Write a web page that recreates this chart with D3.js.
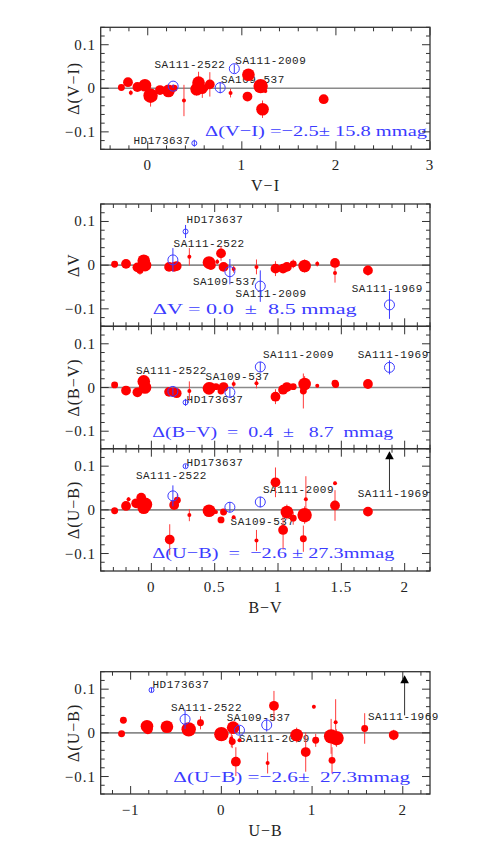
<!DOCTYPE html>
<html>
<head>
<meta charset="utf-8">
<script src="https://cdn.jsdelivr.net/npm/d3@7"></script>
<style>
  body { margin: 0; background: #fff; }
  text { white-space: pre; }
</style>
</head>
<body>
<svg id="chart"></svg>
<script>
// red points: [colour index, delta, error, number of observations]
const viRed = [
  [-0.28, 0.002, 0.004, 3], [-0.21, 0.014, 0.006, 6], [-0.18, -0.010, 0.006, 1],
  [-0.11, 0.003, 0.006, 6], [-0.03, 0.007, 0.008, 10], [0.03, -0.017, 0.025, 13],
  [0.13, -0.004, 0.006, 6], [0.22, -0.006, 0.006, 10], [0.28, 0.000, 0.005, 3],
  [0.385, -0.028, 0.036, 1], [0.54, 0.013, 0.025, 10], [0.52, -0.002, 0.015, 10],
  [0.58, -0.002, 0.020, 6], [0.61, 0.001, 0.010, 3], [0.66, 0.009, 0.028, 6],
  [0.88, -0.011, 0.010, 1], [1.07, 0.031, 0.008, 10], [1.06, -0.019, 0.008, 6],
  [1.20, 0.005, 0.012, 13], [1.25, -0.006, 0.005, 1], [1.22, -0.048, 0.020, 10],
  [1.87, -0.025, 0.004, 6]
];
const vRed = [
  [-0.29, 0.002, 0.003, 3], [-0.20, 0.003, 0.005, 6], [-0.11, -0.005, 0.006, 6],
  [-0.09, -0.012, 0.010, 3], [-0.06, 0.010, 0.012, 10], [-0.05, 0.000, 0.008, 10],
  [0.14, -0.004, 0.005, 6], [0.18, -0.004, 0.006, 6], [0.20, -0.002, 0.005, 6],
  [0.30, 0.019, 0.020, 1], [0.455, 0.006, 0.008, 10], [0.47, 0.000, 0.006, 6],
  [0.52, 0.008, 0.006, 1], [0.55, 0.027, 0.017, 6], [0.57, -0.004, 0.006, 6],
  [0.65, -0.009, 0.008, 1], [0.83, -0.004, 0.017, 1], [0.98, -0.008, 0.017, 6],
  [1.04, -0.008, 0.010, 6], [1.07, -0.004, 0.010, 6], [1.12, 0.003, 0.010, 3],
  [1.21, -0.002, 0.015, 10], [1.31, 0.003, 0.006, 1], [1.45, 0.005, 0.005, 6],
  [1.45, -0.018, 0.022, 1], [1.71, -0.012, 0.012, 6]
];
const bvRed = [
  [-0.29, 0.006, 0.003, 3], [-0.20, -0.007, 0.004, 6], [-0.11, -0.011, 0.005, 6],
  [-0.06, 0.014, 0.008, 10], [-0.05, 0.000, 0.006, 10], [0.14, -0.010, 0.005, 6],
  [0.18, -0.011, 0.005, 6], [0.20, -0.013, 0.004, 6], [0.30, -0.008, 0.022, 1],
  [0.455, -0.002, 0.006, 10], [0.47, 0.000, 0.006, 6], [0.51, 0.002, 0.005, 3],
  [0.55, -0.008, 0.006, 3], [0.57, 0.001, 0.005, 6], [0.65, 0.008, 0.008, 1],
  [0.83, 0.010, 0.012, 1], [0.98, -0.021, 0.017, 6], [1.04, -0.005, 0.006, 6],
  [1.07, 0.001, 0.005, 6], [1.12, 0.002, 0.006, 3], [1.21, 0.008, 0.018, 10],
  [1.20, -0.008, 0.040, 3], [1.31, 0.004, 0.004, 1], [1.45, 0.010, 0.005, 3],
  [1.455, 0.007, 0.005, 3], [1.71, 0.008, 0.010, 6]
];
const ubRed = [
  [-0.29, -0.002, 0.003, 3], [-0.20, 0.009, 0.005, 6], [-0.18, 0.024, 0.005, 1],
  [-0.12, 0.015, 0.006, 6], [-0.08, 0.028, 0.008, 6], [-0.05, 0.012, 0.010, 13],
  [-0.06, 0.005, 0.008, 10], [0.145, -0.068, 0.035, 6], [0.18, 0.011, 0.010, 6],
  [0.205, 0.022, 0.015, 3], [0.30, -0.012, 0.014, 1], [0.455, -0.002, 0.005, 10],
  [0.47, -0.003, 0.005, 6], [0.51, -0.005, 0.004, 1], [0.55, -0.023, 0.006, 3],
  [0.57, -0.005, 0.006, 3], [0.65, -0.017, 0.004, 1], [0.83, -0.070, 0.024, 1],
  [0.98, 0.063, 0.034, 6], [1.04, -0.046, 0.045, 6], [1.07, -0.005, 0.017, 10],
  [1.12, -0.019, 0.015, 3], [1.21, -0.012, 0.020, 13], [1.20, -0.066, 0.030, 3],
  [1.22, 0.024, 0.053, 1], [1.45, 0.061, 0.004, 1], [1.45, 0.010, 0.035, 6],
  [1.71, -0.004, 0.010, 6]
];
const ubuRed = [
  [-1.10, -0.002, 0.004, 3], [-1.08, 0.029, 0.005, 3], [-0.82, 0.015, 0.008, 10],
  [-0.81, 0.008, 0.006, 6], [-0.60, 0.014, 0.006, 10], [-0.36, 0.008, 0.008, 13],
  [-0.23, 0.023, 0.015, 3], [0.00, -0.003, 0.006, 13], [0.11, -0.013, 0.020, 1],
  [0.12, -0.020, 0.015, 3], [0.13, 0.012, 0.010, 10], [0.16, -0.066, 0.033, 6],
  [0.20, -0.017, 0.004, 1], [0.51, -0.069, 0.024, 1], [0.58, 0.062, 0.034, 6],
  [0.83, -0.005, 0.017, 10], [0.93, -0.044, 0.045, 6], [1.02, 0.060, 0.004, 1],
  [1.04, -0.017, 0.015, 3], [1.21, -0.008, 0.040, 13], [1.22, -0.063, 0.030, 3],
  [1.26, 0.024, 0.053, 1], [1.27, -0.012, 0.020, 13], [1.58, 0.010, 0.035, 3],
  [1.90, -0.005, 0.012, 6]
];

// standard stars: [name, colour index, delta, error, number of observations]
const viStd = [
  ["HD173637", 0.495, -0.126, 0.008, 1], ["SA111-2522", 0.27, 0.005, 0.004, 4],
  ["SA109-537", 0.77, 0.0015, 0.013, 4], ["SA111-2009", 0.92, 0.045, 0.010, 4]
];
const vStd = [
  ["HD173637", 0.27, 0.077, 0.015, 1], ["SA111-2522", 0.17, 0.012, 0.027, 4],
  ["SA109-537", 0.62, -0.015, 0.029, 4], ["SA111-2009", 0.86, -0.048, 0.036, 4],
  ["SA111-1969", 1.88, -0.091, 0.032, 4]
];
const bvStd = [
  ["HD173637", 0.27, -0.034, 0.008, 1], ["SA111-2522", 0.17, -0.009, 0.008, 4],
  ["SA109-537", 0.62, -0.011, 0.012, 4], ["SA111-2009", 0.86, 0.047, 0.012, 4],
  ["SA111-1969", 1.88, 0.046, 0.016, 4]
];
const ubStd = [
  ["HD173637", 0.27, 0.100, 0.004, 1], ["SA111-2522", 0.17, 0.032, 0.024, 4],
  ["SA109-537", 0.62, 0.006, 0.012, 4], ["SA111-2009", 0.86, 0.018, 0.012, 4]
];
const ubuStd = [
  ["HD173637", -0.77, 0.098, 0.005, 1], ["SA111-2522", -0.40, 0.031, 0.022, 4],
  ["SA109-537", 0.50, 0.018, 0.015, 4], ["SA111-2009", 0.20, 0.006, 0.010, 4]
];
// off-scale points: [name, colour index, lower value, arrow tip]
const ubLimit = [["SA111-1969", 1.88, 0.044, 0.134]];
const ubuLimit = [["SA111-1969", 2.02, 0.040, 0.132]];

const statText = [
  "Δ(V−I) =−2.5± 15.8 mmag",
  "ΔV = 0.0  ±  8.5 mmag",
  "Δ(B−V)  =  0.4  ±   8.7  mmag",
  "Δ(U−B)  =  −2.6 ± 27.3mmag",
  "Δ(U−B) =−2.6±  27.3mmag"
];

const width = 491, height = 865;
const svg = d3.select("#chart").attr("width", width).attr("height", height);
const blue = "#3b3bff";
const rRed = d3.scaleSqrt().domain([0, 13]).range([0, 7.2]);
const rStd = d3.scaleSqrt().domain([0, 4]).range([0, 5]);

function tickVals(dom, step) {
  const a = Math.ceil(dom[0] / step - 1e-9), b = Math.floor(dom[1] / step + 1e-9);
  return d3.range(a, b + 1).map(i => +(i * step).toFixed(6));
}
const isMajor = (v, m) => Math.abs(v / m - Math.round(v / m)) < 1e-6;

function panel(o) {
  const x = d3.scaleLinear().domain(o.xDom).range([100.7, 430]);
  const y = d3.scaleLinear().domain([-0.14, 0.14]).range([o.bottom, o.top]);
  const g = svg.append("g");

  // zero line
  g.append("line").attr("x1", x.range()[0]).attr("x2", x.range()[1])
    .attr("y1", y(0)).attr("y2", y(0)).attr("stroke", "#8a8a8a").attr("stroke-width", 1.6);

  // star labels (under the points, as in the original)
  const offs = o.labelOff;
  const labelled = o.std.map(d => ({name: d[0], px: x(d[1]), py: y(d[2])}))
    .concat(o.limit.map(d => ({name: d[0], px: x(d[1]), py: y(d[2])})));
  g.selectAll("text.star").data(labelled.filter(d => offs[d.name])).enter().append("text")
    .attr("class", "star")
    .attr("x", d => d.px + offs[d.name][0]).attr("y", d => d.py + offs[d.name][1])
    .attr("text-anchor", d => offs[d.name][2] || "start")
    .attr("font-family", "Liberation Mono, monospace").attr("font-size", 11)
    .attr("letter-spacing", 0.5).attr("fill", "#222").text(d => d.name);

  // red error bars and points
  g.selectAll("line.rerr").data(o.red).enter().append("line")
    .attr("x1", d => x(d[0])).attr("x2", d => x(d[0]))
    .attr("y1", d => y(d[1] - d[2])).attr("y2", d => y(d[1] + d[2]))
    .attr("stroke", "#ff3b3b").attr("stroke-width", 1);
  g.selectAll("circle.red").data(o.red).enter().append("circle")
    .attr("cx", d => x(d[0])).attr("cy", d => y(d[1])).attr("r", d => rRed(d[3]))
    .attr("fill", "#ff0000");

  // standard stars
  g.selectAll("line.berr").data(o.std).enter().append("line")
    .attr("x1", d => x(d[1])).attr("x2", d => x(d[1]))
    .attr("y1", d => y(d[2] - d[3])).attr("y2", d => y(d[2] + d[3]))
    .attr("stroke", blue).attr("stroke-width", 1);
  g.selectAll("circle.std").data(o.std).enter().append("circle")
    .attr("cx", d => x(d[1])).attr("cy", d => y(d[2])).attr("r", d => rStd(d[4]))
    .attr("fill", "none").attr("stroke", blue).attr("stroke-width", 1);

  // off-scale arrows
  o.limit.forEach(d => {
    const ax = x(d[1]), tip = y(d[3]);
    g.append("line").attr("x1", ax).attr("x2", ax).attr("y1", y(d[2])).attr("y2", tip + 7)
      .attr("stroke", "#333").attr("stroke-width", 1);
    g.append("path").attr("d", `M${ax},${tip}L${ax - 4.3},${tip + 8}L${ax + 4.3},${tip + 8}Z`)
      .attr("fill", "#000");
  });

  // statistics text
  g.append("text").attr("x", o.stat[0]).attr("y", o.stat[1])
    .attr("textLength", o.stat[2]).attr("lengthAdjust", "spacingAndGlyphs")
    .attr("font-family", "Liberation Serif, serif").attr("font-size", 15.5)
    .attr("fill", blue).text(o.statText);

  // frame and inward ticks
  g.append("rect").attr("x", 100.7).attr("y", o.top).attr("width", 430 - 100.7)
    .attr("height", o.bottom - o.top).attr("fill", "none")
    .attr("stroke", "#333").attr("stroke-width", 1.3);
  const xt = tickVals(o.xDom, o.xMinor), yt = tickVals(y.domain(), 0.02);
  const tk = g.append("g").attr("stroke", "#333").attr("stroke-width", 1);
  xt.forEach(v => {
    const L = isMajor(v, o.xMajor) ? 8 : 4;
    tk.append("line").attr("x1", x(v)).attr("x2", x(v)).attr("y1", o.bottom).attr("y2", o.bottom - L);
    tk.append("line").attr("x1", x(v)).attr("x2", x(v)).attr("y1", o.top).attr("y2", o.top + L);
  });
  yt.forEach(v => {
    const L = isMajor(v, 0.1) ? 8 : 4;
    tk.append("line").attr("x1", 100.7).attr("x2", 100.7 + L).attr("y1", y(v)).attr("y2", y(v));
    tk.append("line").attr("x1", 430).attr("x2", 430 - L).attr("y1", y(v)).attr("y2", y(v));
  });

  const font = "Liberation Serif, serif";
  g.selectAll("text.yt").data(yt.filter(v => isMajor(v, 0.1))).enter().append("text")
    .attr("x", 96).attr("y", v => y(v) + 5).attr("text-anchor", "end")
    .attr("font-family", font).attr("font-size", 15).attr("letter-spacing", 1)
    .attr("fill", "#222").text(v => d3.format("~g")(v));
  g.append("text").attr("transform", `translate(79,${(o.top + o.bottom) / 2}) rotate(-90)`)
    .attr("text-anchor", "middle").attr("font-family", font).attr("font-size", 16)
    .attr("letter-spacing", 1).attr("fill", "#222").text(o.yLabel);

  if (o.xLabel) {
    g.selectAll("text.xt").data(xt.filter(v => isMajor(v, o.xMajor))).enter().append("text")
      .attr("x", v => x(v)).attr("y", o.bottom + 21).attr("text-anchor", "middle")
      .attr("font-family", font).attr("font-size", 15).attr("letter-spacing", 1)
      .attr("fill", "#222").text(v => d3.format("~g")(v));
    g.append("text").attr("x", 265.5).attr("y", o.bottom + 42).attr("text-anchor", "middle")
      .attr("font-family", font).attr("font-size", 16).attr("letter-spacing", 1)
      .attr("fill", "#222").text(o.xLabel);
  }
}

panel({
  top: 27.3, bottom: 149.3, xDom: [-0.5, 3], xMinor: 0.2, xMajor: 1,
  red: viRed, std: viStd, limit: [], yLabel: "Δ(V−I)", xLabel: "V−I",
  statText: statText[0], stat: [205, 136, 222],
  labelOff: {"SA111-2522": [-18.7, -17.7], "SA111-2009": [1, -4.3],
             "SA109-537": [0.7, -4.3], "HD173637": [-4, 0.7, "end"]}
});
panel({
  top: 204, bottom: 326.3, xDom: [-0.4, 2.2], xMinor: 0.1, xMajor: 0.5,
  red: vRed, std: vStd, limit: [], yLabel: "ΔV", xLabel: null,
  statText: statText[1], stat: [152.7, 313.8, 204],
  labelOff: {"HD173637": [1, -8.3], "SA111-2522": [0.7, -12.7], "SA109-537": [-37, 13.3],
             "SA111-2009": [-24.7, 10.5], "SA111-1969": [-37.7, -13.3]}
});
panel({
  top: 326.3, bottom: 448.7, xDom: [-0.4, 2.2], xMinor: 0.1, xMajor: 0.5,
  red: bvRed, std: bvStd, limit: [], yLabel: "Δ(B−V)", xLabel: null,
  statText: statText[2], stat: [152.3, 437.3, 241],
  labelOff: {"SA111-2522": [-37, -17.3], "SA109-537": [-24.3, -12.3], "HD173637": [1, 0.7],
             "SA111-2009": [2.7, -9], "SA111-1969": [-31.7, -9.3]}
});
panel({
  top: 448.7, bottom: 571, xDom: [-0.4, 2.2], xMinor: 0.1, xMajor: 0.5,
  red: ubRed, std: ubStd, limit: ubLimit, yLabel: "Δ(U−B)", xLabel: "B−V",
  statText: statText[3], stat: [152.3, 558.3, 242],
  labelOff: {"HD173637": [1, 0], "SA111-2522": [-37, -17.3], "SA111-2009": [2.7, -8.7],
             "SA109-537": [0.7, 17.3], "SA111-1969": [-31.7, 6.7]}
});
panel({
  top: 671.7, bottom: 794, xDom: [-1.33, 2.3], xMinor: 0.2, xMajor: 1,
  red: ubuRed, std: ubuStd, limit: ubuLimit, yLabel: "Δ(U−B)", xLabel: "U−B",
  statText: statText[4], stat: [173.3, 781.7, 236.7],
  labelOff: {"HD173637": [1, -2], "SA111-2522": [-14, -8.7], "SA109-537": [-40, -4],
             "SA111-2009": [-0.7, 11.7], "SA111-1969": [-36.7, 5]}
});
</script>
</body>
</html>
